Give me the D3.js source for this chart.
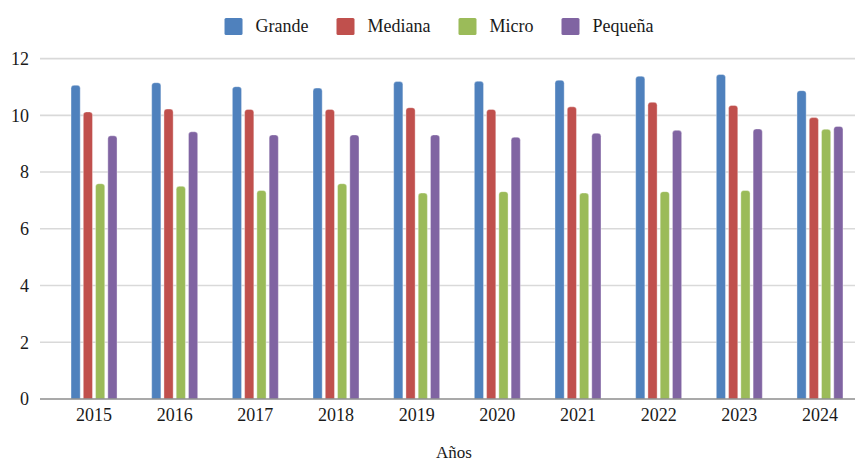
<!DOCTYPE html>
<html>
<head>
<meta charset="utf-8">
<script src="https://cdn.jsdelivr.net/npm/d3@7"></script>
<style>
  body { margin: 0; background: #fff; }
  svg { display: block; }
</style>
</head>
<body>
<svg width="865" height="461"></svg>
<script>
var years = ["2015", "2016", "2017", "2018", "2019", "2020", "2021", "2022", "2023", "2024"];
var series = ["Grande", "Mediana", "Micro", "Pequeña"];
var colors = ["#4f81bd", "#c0504d", "#9bbb59", "#8064a2"];
var grande  = [11.06, 11.15, 11.01, 10.96, 11.19, 11.20, 11.24, 11.38, 11.44, 10.87];
var mediana = [10.12, 10.22, 10.21, 10.21, 10.27, 10.21, 10.30, 10.46, 10.35, 9.92];
var micro   = [7.59, 7.50, 7.35, 7.59, 7.26, 7.31, 7.26, 7.31, 7.35, 9.51];
var pequena = [9.28, 9.42, 9.31, 9.31, 9.31, 9.23, 9.37, 9.47, 9.52, 9.61];
var yTicks = [0, 2, 4, 6, 8, 10, 12];

var values = [grande, mediana, micro, pequena];
var data = years.map(function (y, i) {
    return { year: y, vals: series.map(function (s, j) { return { key: s, value: values[j][i], color: colors[j] }; }) };
});

var font = "'Times New Roman', 'Liberation Serif', Times, serif";
var svg = d3.select('svg');
var plotLeft = 40, plotRight = 855;

var x0 = d3.scaleBand().domain(years).range([53.7, 860.3]).padding(0);
var x1 = d3.scaleBand().domain(series).range([-23, 23]).paddingInner(0.25);
var y = d3.scaleLinear().domain([0, 12]).range([399, 58.6]);

// gridlines
svg.append('g').selectAll('line')
    .data(yTicks.filter(function (d) { return d > 0; }))
    .enter().append('line')
    .attr('x1', plotLeft).attr('x2', plotRight)
    .attr('y1', function (d) { return y(d); })
    .attr('y2', function (d) { return y(d); })
    .attr('stroke', '#d9d9d9')
    .attr('stroke-width', 1.6);

// y tick labels
svg.append('g').selectAll('text')
    .data(yTicks)
    .enter().append('text')
    .attr('x', 29)
    .attr('y', function (d) { return y(d); })
    .attr('dy', '0.35em')
    .attr('text-anchor', 'end')
    .style('font-family', font)
    .attr('font-size', 18)
    .attr('fill', '#1a1a1a')
    .text(function (d) { return d; });

// bars with rounded tops
function barPath(x, w, top, bottom) {
    var r = Math.min(3, w / 2);
    return 'M' + x + ',' + bottom +
        'V' + (top + r) +
        'Q' + x + ',' + top + ' ' + (x + r) + ',' + top +
        'H' + (x + w - r) +
        'Q' + (x + w) + ',' + top + ' ' + (x + w) + ',' + (top + r) +
        'V' + bottom + 'Z';
}

var groups = svg.append('g').selectAll('g')
    .data(data)
    .enter().append('g')
    .attr('transform', function (d) { return 'translate(' + (x0(d.year) + x0.bandwidth() / 2) + ',0)'; });

groups.selectAll('path')
    .data(function (d) { return d.vals; })
    .enter().append('path')
    .attr('d', function (d) { return barPath(x1(d.key), x1.bandwidth(), y(d.value), y(0)); })
    .attr('fill', function (d) { return d.color; })
    .attr('stroke', 'rgba(255,255,255,0.45)')
    .attr('stroke-width', 0.8);

// x axis line
svg.append('line')
    .attr('x1', plotLeft).attr('x2', plotRight)
    .attr('y1', y(0)).attr('y2', y(0))
    .attr('stroke', '#8c8c8c')
    .attr('stroke-width', 1.6);

// x tick labels
svg.append('g').selectAll('text')
    .data(years)
    .enter().append('text')
    .attr('x', function (d) { return x0(d) + x0.bandwidth() / 2; })
    .attr('y', 421)
    .attr('text-anchor', 'middle')
    .style('font-family', font)
    .attr('font-size', 18)
    .attr('fill', '#1a1a1a')
    .text(function (d) { return d; });

// axis title
svg.append('text')
    .attr('x', 454)
    .attr('y', 458)
    .attr('text-anchor', 'middle')
    .style('font-family', font)
    .attr('font-size', 17)
    .attr('fill', '#1a1a1a')
    .text('Años');

// legend
var legend = svg.append('g');
var lx = 0;
series.forEach(function (s, i) {
    var g = legend.append('g').attr('transform', 'translate(' + lx + ',0)');
    g.append('rect')
        .attr('x', 0).attr('y', 18)
        .attr('width', 18).attr('height', 17)
        .attr('rx', 1.5)
        .attr('fill', colors[i]);
    var t = g.append('text')
        .attr('x', 31).attr('y', 32)
        .style('font-family', font)
        .attr('font-size', 18)
        .attr('fill', '#1a1a1a')
        .text(s);
    lx += 31 + t.node().getComputedTextLength() + 28;
});
var lw = lx - 28;
legend.attr('transform', 'translate(' + (439 - lw / 2) + ',0)');
</script>
</body>
</html>
